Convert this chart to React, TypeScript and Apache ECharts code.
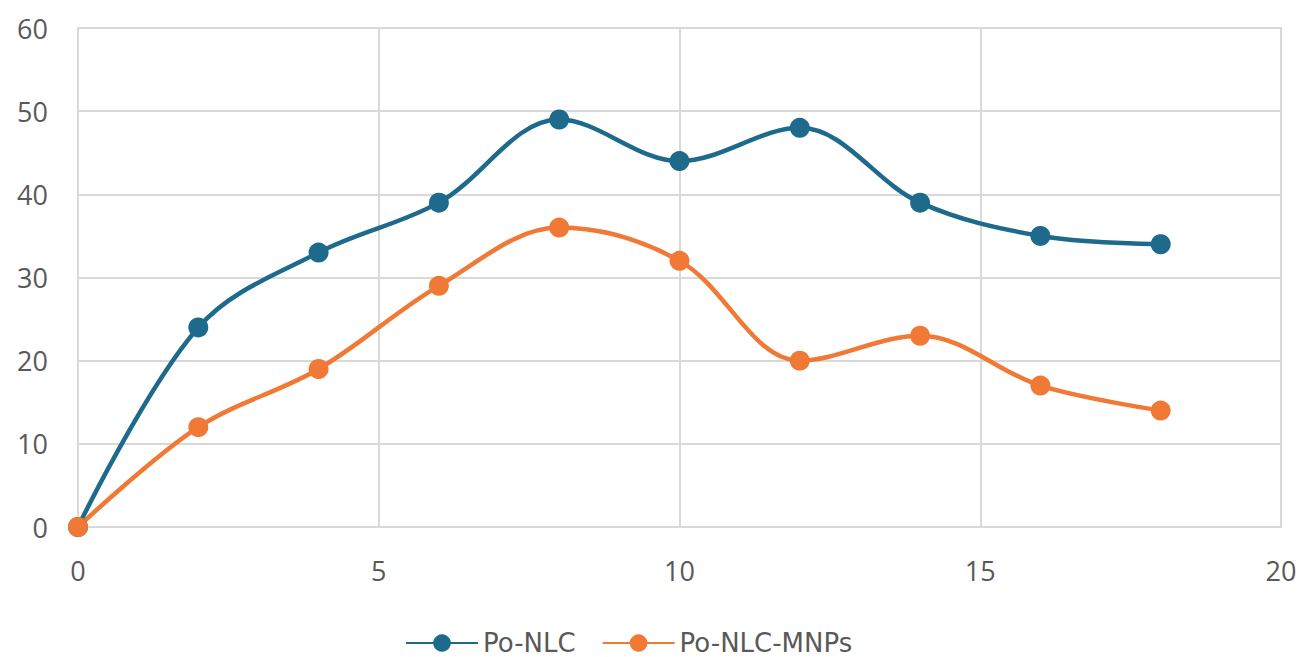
import React, { useEffect, useRef } from "react";
import * as echarts from "echarts";

const xValues = [0, 2, 4, 6, 8, 10, 12, 14, 16, 18];
const poNlc = [0, 24, 33, 39, 49, 44, 48, 39, 35, 34];
const poNlcMnps = [0, 12, 19, 29, 36, 32, 20, 23, 17, 14];
const seriesNames = ["Po-NLC", "Po-NLC-MNPs"];

const toPairs = (ys: number[]) => xValues.map((x, i) => [x, ys[i]]);

export default function App() {
  const ref = useRef<HTMLDivElement>(null);

  useEffect(() => {
    document.body.style.margin = "0";
    if (!ref.current) return;
    const chart = echarts.init(ref.current, null, { renderer: "svg" });
    const font = "'Open Sans', 'Noto Sans', sans-serif";
    const gridLine = { lineStyle: { color: "#d9d9d9", width: 2 } };
    chart.setOption({
      animation: false,
      backgroundColor: "#ffffff",
      grid: { left: 78, right: 21, top: 28, bottom: 130, show: true, borderColor: "#d9d9d9", borderWidth: 2 },
      xAxis: {
        type: "value",
        min: 0,
        max: 20,
        interval: 5,
        axisLine: { show: true, lineStyle: { color: "#d9d9d9", width: 2 } },
        axisTick: { show: false },
        splitLine: { show: true, ...gridLine },
        axisLabel: { color: "#595959", fontSize: 27, fontFamily: font, margin: 30 },
      },
      yAxis: {
        type: "value",
        min: 0,
        max: 60,
        interval: 10,
        axisLine: { show: true, lineStyle: { color: "#d9d9d9", width: 2 } },
        axisTick: { show: false },
        splitLine: { show: true, ...gridLine },
        axisLabel: { color: "#595959", fontSize: 27, fontFamily: font, margin: 30 },
      },
      legend: {
        top: 624,
        left: 400,
        itemWidth: 72,
        itemHeight: 22,
        itemGap: 26,
        textStyle: { color: "#595959", fontSize: 26, fontFamily: "DejaVu Sans", lineHeight: 28 },
        data: seriesNames,
      },
      series: [
        {
          name: seriesNames[0],
          type: "line",
          data: toPairs(poNlc),
          smooth: 0.35,
          symbol: "circle",
          symbolSize: 20,
          itemStyle: { color: "#1d6a8c" },
          lineStyle: { color: "#1d6a8c", width: 4.5 },
        },
        {
          name: seriesNames[1],
          type: "line",
          data: toPairs(poNlcMnps),
          smooth: 0.35,
          symbol: "circle",
          symbolSize: 20,
          itemStyle: { color: "#f07a35" },
          lineStyle: { color: "#f07a35", width: 4.5 },
        },
      ],
    });
    return () => chart.dispose();
  }, []);

  return <div ref={ref} style={{ width: 1302, height: 657 }} />;
}
